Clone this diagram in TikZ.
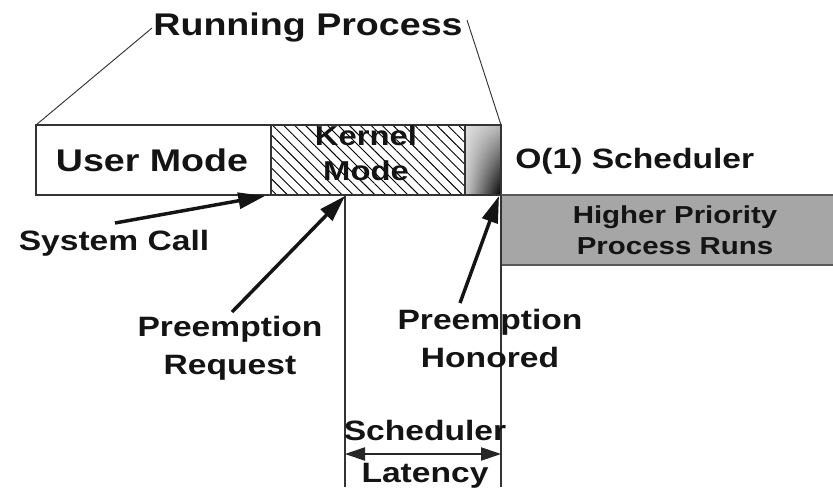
\documentclass[tikz,border=0pt]{standalone}
\usepackage{fontspec}
\setmainfont{Liberation Sans}[FakeStretch=1.2]
\usetikzlibrary{arrows.meta,patterns.meta,shadings}

\tikzset{
  lbl/.style={font=\bfseries\fontsize{21pt}{28.5pt}\selectfont, text=black!92, align=center, inner sep=0pt},
  biglbl/.style={lbl, font=\bfseries\fontsize{23.5pt}{28pt}\selectfont},
  kernlbl/.style={lbl, font=\bfseries\fontsize{20.5pt}{26pt}\selectfont},
  prilbl/.style={lbl, font=\bfseries\fontsize{18.4pt}{23pt}\selectfont},
  outline/.style={draw=black!80, line width=0.9pt},
  pointer/.style={line width=2.6pt, black!92, -{Triangle[length=20pt,width=12pt]}},
  span/.style={line width=0.8pt, black!85, {Triangle[length=15pt,width=10pt]}-{Triangle[length=15pt,width=10pt]}},
}

\begin{document}
\begin{tikzpicture}[x=0.75pt, y=-0.75pt]
  \useasboundingbox (0,0) rectangle (833,487);

  % the running process bar
  \coordinate (barnw) at (36,125);
  \coordinate (barne) at (501,125);
  \draw[outline, fill=white] (barnw) rectangle (271,195);
  \draw[outline, pattern={Lines[angle=-45, distance=5.8pt, line width=0.7pt]}] (271,125) rectangle (465,195);
  \shade[upper left=gray!25, upper right=gray!55, lower left=gray!40, lower right=black] (465,125) rectangle (501,195);
  \draw[outline] (465,125) rectangle (501,195);

  % higher priority process
  \fill[gray!70] (501,195) rectangle (833,265);
  \draw[outline, black!65] (501,195) -- (833,195);
  \draw[outline, black!65] (501,265) -- (833,265);

  % latency guides
  \coordinate (reqtip) at (345,196);
  \coordinate (hontip) at (499,196);
  \coordinate (reqfoot) at (345,487);
  \coordinate (honfoot) at (501,487);
  \draw[outline] (345,195) -- (reqfoot);
  \draw[outline] (501,195) -- (honfoot);
  \coordinate (latl) at (345,454);
  \coordinate (latr) at (501,454);
  \draw[span] (latl) -- (latr);

  % labels
  \node[biglbl, anchor=base] (run) at (308,35) {Running Process};
  \coordinate (runl) at (152,28);
  \coordinate (runr) at (467,20);
  \draw[outline, line width=0.7pt] (barnw) -- (runl);
  \draw[outline, line width=0.7pt] (barne) -- (runr);
  \node[biglbl, anchor=base] (user) at (152,171) {User Mode};
  \node[kernlbl] (kern) at (366,153) {Kernel\\Mode};
  \node[lbl, anchor=base west] (sched) at (515,168) {O(1) Scheduler};
  \node[prilbl] (prio) at (675,230) {Higher Priority\\Process Runs};
  \node[lbl, anchor=base] (sys) at (114,250) {System Call};
  \node[lbl] (req) at (230,348) {Preemption\\Request};
  \node[lbl] (hon) at (490,338) {Preemption\\Honored};
  \node[lbl, anchor=base] (lat1) at (425,440) {Scheduler};
  \node[lbl, anchor=base] (lat2) at (425,482) {Latency};

  % arrows
  \coordinate (systail) at (115,223);
  \coordinate (systip) at (265,196);
  \coordinate (reqtail) at (232,312);
  \coordinate (hontail) at (460,303);
  \draw[pointer] (systail) -- (systip);
  \draw[pointer] (reqtail) -- (reqtip);
  \draw[pointer] (hontail) -- (hontip);
\end{tikzpicture}
\end{document}
